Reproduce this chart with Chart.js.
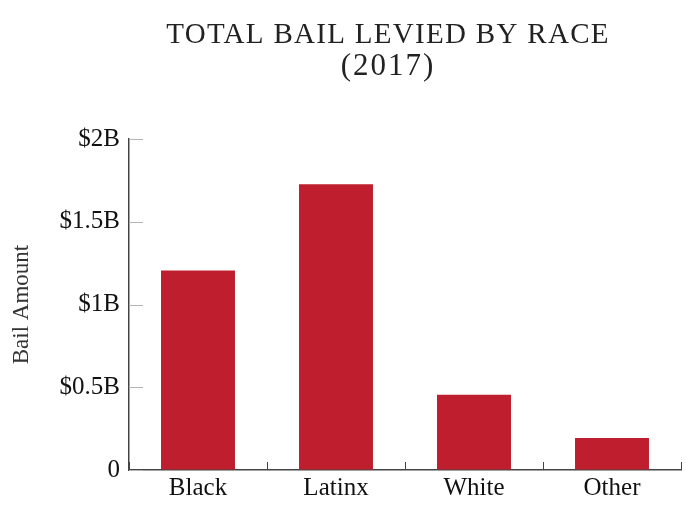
<!DOCTYPE html>
<html>
<head>
<meta charset="utf-8">
<script src="https://cdn.jsdelivr.net/npm/chart.js@4"></script>
<style>
	html, body { margin: 0; padding: 0; background: #ffffff; }
	#wrap { width: 686px; height: 508px; }
</style>
</head>
<body>
<div id="wrap"><canvas id="chart" width="686" height="508"></canvas></div>
<script>
// chart values
const categories = [ "Black", "Latinx", "White", "Other" ];
const bailAmounts = [ 1.205e9, 1.727e9, 0.455e9, 0.194e9 ];
const yTickLabels = [ "0", "$0.5B", "$1B", "$1.5B", "$2B" ];
const titleLines = [ "TOTAL BAIL LEVIED BY RACE", "(2017)" ];

const SERIF = "'Liberation Serif', 'DejaVu Serif', serif";

// short tick marks drawn inside the plot, plus the two-line title
const innerTicks = {
	id: "innerTicks",
	afterDraw( chart ) {
		const ctx = chart.ctx;
		const area = chart.chartArea;
		const x = chart.scales.x;
		const y = chart.scales.y;

		ctx.save();
		ctx.lineWidth = 1;
		ctx.strokeStyle = "#b5b5b5";
		y.ticks.forEach( ( t, i ) => {
			const py = Math.round( y.getPixelForTick( i ) ) + 0.5;
			ctx.beginPath();
			ctx.moveTo( area.left, py );
			ctx.lineTo( area.left + 14, py );
			ctx.stroke();
		} );

		ctx.strokeStyle = "#444444";
		for ( let i = 0; i <= categories.length; i++ ) {
			const px = Math.round( x.getPixelForValue( i - 0.5 ) ) + 0.5;
			ctx.beginPath();
			ctx.moveTo( px, area.bottom );
			ctx.lineTo( px, area.bottom - 8 );
			ctx.stroke();
		}

		ctx.fillStyle = "#222222";
		ctx.font = "29px " + SERIF;
		ctx.textAlign = "center";
		ctx.textBaseline = "alphabetic";
		ctx.letterSpacing = "1.3px";
		ctx.fillText( titleLines[ 0 ], 388, 43 );
		ctx.font = "31px " + SERIF;
		ctx.letterSpacing = "2px";
		ctx.fillText( titleLines[ 1 ], 388, 75 );
		ctx.restore();
	}
};

new Chart( document.getElementById( "chart" ), {
	  type: "bar"
	, data: {
		  labels: categories
		, datasets: [ {
			  data: bailAmounts
			, backgroundColor: "#be1e2d"
			, borderWidth: 0
			, barPercentage: 0.67
			, categoryPercentage: 0.8
		} ]
	}
	, options: {
		  responsive: false
		, animation: false
		, layout: { padding: { top: 139, right: 5, bottom: 1, left: 8 } }
		, plugins: {
			  legend: { display: false }
			, title: { display: false }
			, tooltip: { enabled: false }
		}
		, scales: {
			x: {
				  grid: { display: true, drawOnChartArea: false, drawTicks: false, offset: true }
				, border: { display: true, color: "#444444", width: 1.5 }
				, ticks: { color: "#111111", padding: 6, font: { family: SERIF, size: 25, lineHeight: 1 } }
			}
			, y: {
				  min: 0
				, max: 2e9
				, grid: { display: true, drawOnChartArea: false, drawTicks: false }
				, border: { display: true, color: "#444444", width: 1.5 }
				, afterFit( scale ) { scale.width = 121; }
				, ticks: {
					  stepSize: 5e8
					, color: "#111111"
					, padding: 9
					, font: { family: SERIF, size: 25 }
					, callback: ( v, i ) => yTickLabels[ i ]
				}
				, title: {
					  display: true
					, text: "Bail Amount"
					, color: "#333333"
					, padding: 0
					, font: { family: SERIF, size: 23 }
				}
			}
		}
	}
	, plugins: [ innerTicks ]
} );
</script>
</body>
</html>
